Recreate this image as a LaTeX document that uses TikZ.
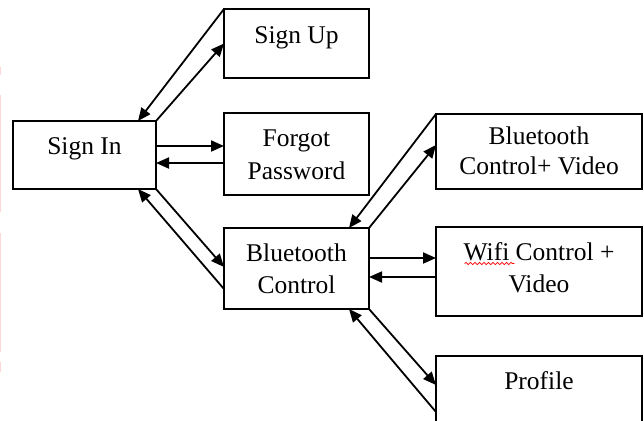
\documentclass[tikz,border=0pt]{standalone}
\usepackage{fontspec}
\setmainfont{Liberation Serif}
\usetikzlibrary{arrows.meta,calc,decorations.pathmorphing}
\definecolor{marginpink}{RGB}{255,215,215}
\begin{document}
\begin{tikzpicture}[x=1pt,y=-1pt,
  box/.style={draw,line width=2pt,rectangle,inner sep=0pt,outer sep=0pt},
  txt/.style={anchor=base,inner sep=0pt,outer sep=0pt,font=\fontsize{25.5}{30}\selectfont},
  link/.style={line width=1.8pt,-{Triangle[length=13pt,width=11pt]}},
  spell/.style={red,line width=0.8pt,decorate,decoration={snake,segment length=4.5pt,amplitude=1.1pt}}]
\useasboundingbox (0,0) rectangle (644,420);
\clip (0,0) rectangle (644,420);

% faint margin marks on the left edge
\foreach \a/\b in {67/75,95/212,233/352,362/372}
  \draw[marginpink,line width=1.5pt] (0.5,\a) -- (0.5,\b);

% screens
\node[box,minimum width=143pt,minimum height=68pt] (signin)  at (84.5,155)  {};
\node[box,minimum width=145pt,minimum height=69pt] (signup)  at (296.5,43.5) {};
\node[box,minimum width=145pt,minimum height=82pt] (forgot)  at (296.5,154) {};
\node[box,minimum width=145pt,minimum height=81pt] (btc)     at (296.5,268.5) {};
\node[box,minimum width=206pt,minimum height=75pt] (btv)     at (539,151.5) {};
\node[box,minimum width=206pt,minimum height=89pt] (wifi)    at (539,271.5) {};
\node[box,minimum width=206pt,minimum height=84pt] (profile) at (539,398) {};

% labels
\node[txt] (signinA)  at ($(signin)+(0,-1)$)     {Sign In};
\node[txt] (signupA)  at ($(signup)+(0,0)$)      {Sign Up};
\node[txt] (forgotA)  at ($(forgot)+(0,-7.3)$)   {Forgot};
\node[txt] (forgotB)  at ($(forgot)+(0,25.3)$)   {Password};
\node[txt] (btcA)     at ($(btc)+(0,-6.8)$)      {Bluetooth};
\node[txt] (btcB)     at ($(btc)+(0,24.8)$)      {Control};
\node[txt] (btvA)     at ($(btv)+(0,-7.2)$)      {Bluetooth};
\node[txt] (btvB)     at ($(btv)+(0,22.5)$)      {Control+ Video};
\node[txt] (wifiA)    at ($(wifi)+(0,-11.5)$)    {Wifi Control +};
\node[txt] (wifiB)    at ($(wifi)+(0,21.2)$)     {Video};
\node[txt] (profileA) at ($(profile)+(0,-8.7)$)  {Profile};

% spell-check underline
\draw[spell] ($(wifiA.base west)+(1,3.5)$) -- ++(49.7,0);

% navigation
\draw[link] (signup.north west) -- ($(signin.north east)+(-18,0)$);
\draw[link] (signin.north east) -- (signup.west);
\draw[link] ($(signin.east)+(0,-9)$) -- ($(forgot.west)+(0,-8)$);
\draw[link] ($(forgot.west)+(0,9)$) -- ($(signin.east)+(0,8)$);
\draw[link] (signin.south east) -- ($(btc.west)+(0,-1.5)$);
\draw[link] ($(btc.west)+(0,20.5)$) -- ($(signin.south east)+(-18,0)$);
\draw[link] (btv.north west) -- ($(btc.north east)+(-20,0)$);
\draw[link] (btc.north east) -- ($(btv.west)+(0,-6.5)$);
\draw[link] ($(btc.east)+(0,-10.5)$) -- ($(wifi.west)+(0,-13.5)$);
\draw[link] ($(wifi.west)+(0,5.5)$) -- ($(btc.east)+(0,8.5)$);
\draw[link] (btc.south east) -- ($(profile.north west)+(0,29)$);
\draw[link] ($(profile.north west)+(0,56)$) -- ($(btc.south east)+(-20,0)$);
\end{tikzpicture}
\end{document}
